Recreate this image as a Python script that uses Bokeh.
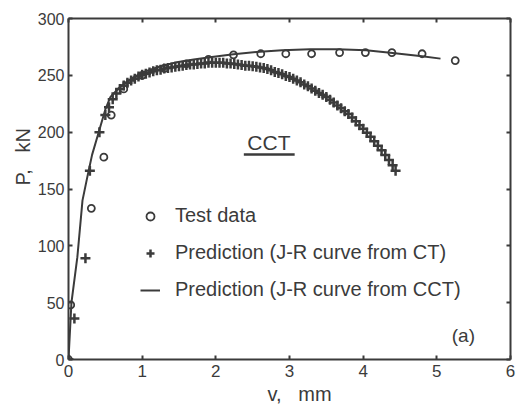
from bokeh.plotting import figure
from bokeh.models import (LinearAxis, FixedTicker, Legend, LegendItem, Label,
                          BoxAnnotation, Title, Range1d, CustomJSTickFormatter)
from bokeh.embed import file_html
from bokeh.resources import INLINE

# ---- data ----
test_v = [0.0, 0.03, 0.31, 0.48, 0.58, 0.75, 1.00, 1.30, 1.60, 1.90, 2.24,
          2.61, 2.95, 3.30, 3.68, 4.03, 4.39, 4.80, 5.25]
test_p = [0, 48, 133, 178, 215, 238, 250, 256, 260, 264, 268,
          269, 269, 269, 270, 270, 270, 269, 263]

ct_v = [0.0, 0.08, 0.23, 0.29, 0.42,
        0.50, 0.55, 0.60, 0.65, 0.70, 0.75, 0.80, 0.85, 0.90, 0.95,
        1.00, 1.05, 1.10, 1.15, 1.20, 1.25, 1.30, 1.35, 1.40, 1.45,
        1.50, 1.55, 1.60, 1.65, 1.70, 1.75, 1.80, 1.85, 1.90, 1.95,
        2.00, 2.05, 2.10, 2.15, 2.20, 2.25, 2.30, 2.35, 2.40, 2.45,
        2.50, 2.55, 2.60, 2.65, 2.70, 2.75, 2.80, 2.85, 2.90, 2.95,
        3.00, 3.05, 3.10, 3.15, 3.20, 3.25, 3.30, 3.35, 3.40, 3.45,
        3.50, 3.55, 3.60, 3.65, 3.70, 3.75, 3.80, 3.85, 3.90, 3.95,
        4.00, 4.05, 4.10, 4.15, 4.20, 4.25, 4.30, 4.35, 4.40, 4.44]
ct_p = [0, 36, 89, 166, 200,
        215, 222, 229, 234, 238, 241, 243.5, 245.5, 247, 249,
        250.5, 251.5, 252.5, 253.5, 254.5, 255, 256, 256.5, 257, 257.5,
        258, 258.5, 259, 259.5, 259.5, 260, 260.5, 260.5, 261, 261,
        261, 261, 261, 260.5, 260.5, 260, 259.5, 259, 258.5, 258.5,
        258, 257.5, 257, 256.5, 255.5, 254.5, 253, 252, 251, 249.5,
        248.5, 247, 245.5, 244, 242, 240.5, 238.5, 236.5, 234.5, 233,
        231, 228.5, 226, 223.5, 221, 218.5, 216, 213, 209.5, 206,
        203, 199.5, 196, 192, 188, 184, 180, 175.5, 171, 166]

cct_v = [0.0, 0.04, 0.12, 0.19, 0.26, 0.32, 0.41, 0.50, 0.57, 0.70, 0.85,
         1.02, 1.25, 1.47, 1.70, 1.92, 2.24, 2.55, 2.90, 3.28, 3.65, 4.04,
         4.40, 4.80, 5.05]
cct_p = [0, 50, 90, 140, 162, 180, 200, 220, 231, 240, 247,
         253, 258, 261.5, 264, 266, 268.5, 270.5, 272, 273, 273, 272,
         269.6, 266.7, 264.7]

x_ticks = [0, 1, 2, 3, 4, 5, 6]
y_ticks = [0, 50, 100, 150, 200, 250, 300]

legend_labels = ["Test data", "Prediction (J-R curve from CT)",
                 "Prediction (J-R curve from CCT)"]

INK = "#3b3b3b"
FONT = "Liberation Sans"

p = figure(width=530, height=418, output_backend="svg", toolbar_location=None,
           x_range=Range1d(0, 6), y_range=Range1d(0, 300),
           min_border_left=68, min_border_right=20, min_border_top=18,
           min_border_bottom=59, background_fill_color="white",
           border_fill_color="white")
p.grid.visible = False
p.outline_line_color = None


def style_axis(ax, ticks, labels, size="16px", standoff=4):
    ax.ticker = FixedTicker(ticks=ticks)
    ax.axis_line_color = INK
    ax.axis_line_width = 2
    ax.major_tick_in = 4
    ax.major_tick_out = 0
    ax.major_tick_line_color = INK
    ax.major_tick_line_width = 2
    ax.minor_tick_line_color = None
    ax.major_label_text_font = FONT
    ax.major_label_text_color = INK
    if labels:
        ax.major_label_text_font_size = size
        ax.major_label_standoff = standoff
    else:
        ax.formatter = CustomJSTickFormatter(code="return ''")
        ax.major_label_standoff = 0


style_axis(p.xaxis[0], x_ticks, True, "17px", 5)
style_axis(p.yaxis[0], y_ticks, True, "16px", 4)
top_ax = LinearAxis()
right_ax = LinearAxis()
style_axis(top_ax, x_ticks, False)
style_axis(right_ax, y_ticks, False)
p.add_layout(top_ax, "above")
p.add_layout(right_ax, "right")

p.add_layout(Title(text="P,\u00a0\u00a0 kN", align="left", offset=174,
                   text_font=FONT, text_font_size="20px",
                   text_font_style="normal", text_color=INK, standoff=2),
             "left")
p.add_layout(Title(text="v,\u00a0\u00a0 mm", align="left", offset=199,
                   text_font=FONT, text_font_size="20px",
                   text_font_style="normal", text_color=INK, standoff=2),
             "below")

r_ct = p.scatter(ct_v, ct_p, marker="cross", size=10, line_color=INK,
                 line_width=2.5)
r_cct = p.line(cct_v, cct_p, line_color=INK, line_width=2)
r_test = p.scatter(test_v, test_p, marker="circle", size=7, fill_color=None,
                   line_color=INK, line_width=1.8)

legend = Legend(items=[LegendItem(label=legend_labels[0], renderers=[r_test]),
                       LegendItem(label=legend_labels[1], renderers=[r_ct]),
                       LegendItem(label=legend_labels[2], renderers=[r_cct])],
                location=(72, 58), background_fill_alpha=0, border_line_alpha=0,
                padding=0, margin=0, spacing=14, label_standoff=15,
                glyph_width=20, glyph_height=20, label_height=23,
                label_text_font=FONT, label_text_font_size="20px",
                label_text_color=INK)
p.add_layout(legend)

p.add_layout(Label(x=2.72, y=191, text="CCT", text_align="center",
                   text_baseline="middle", text_font=FONT,
                   text_font_size="21px", text_color=INK))
p.add_layout(BoxAnnotation(left=2.38, right=3.07, bottom=179.2, top=181.4,
                           fill_color=INK, fill_alpha=1, line_color=None))
p.add_layout(Label(x=5.36, y=21, text="(a)", text_align="center",
                   text_baseline="middle", text_font=FONT,
                   text_font_size="19px", text_color=INK))

open("out.html", "w").write(file_html(p, INLINE))
